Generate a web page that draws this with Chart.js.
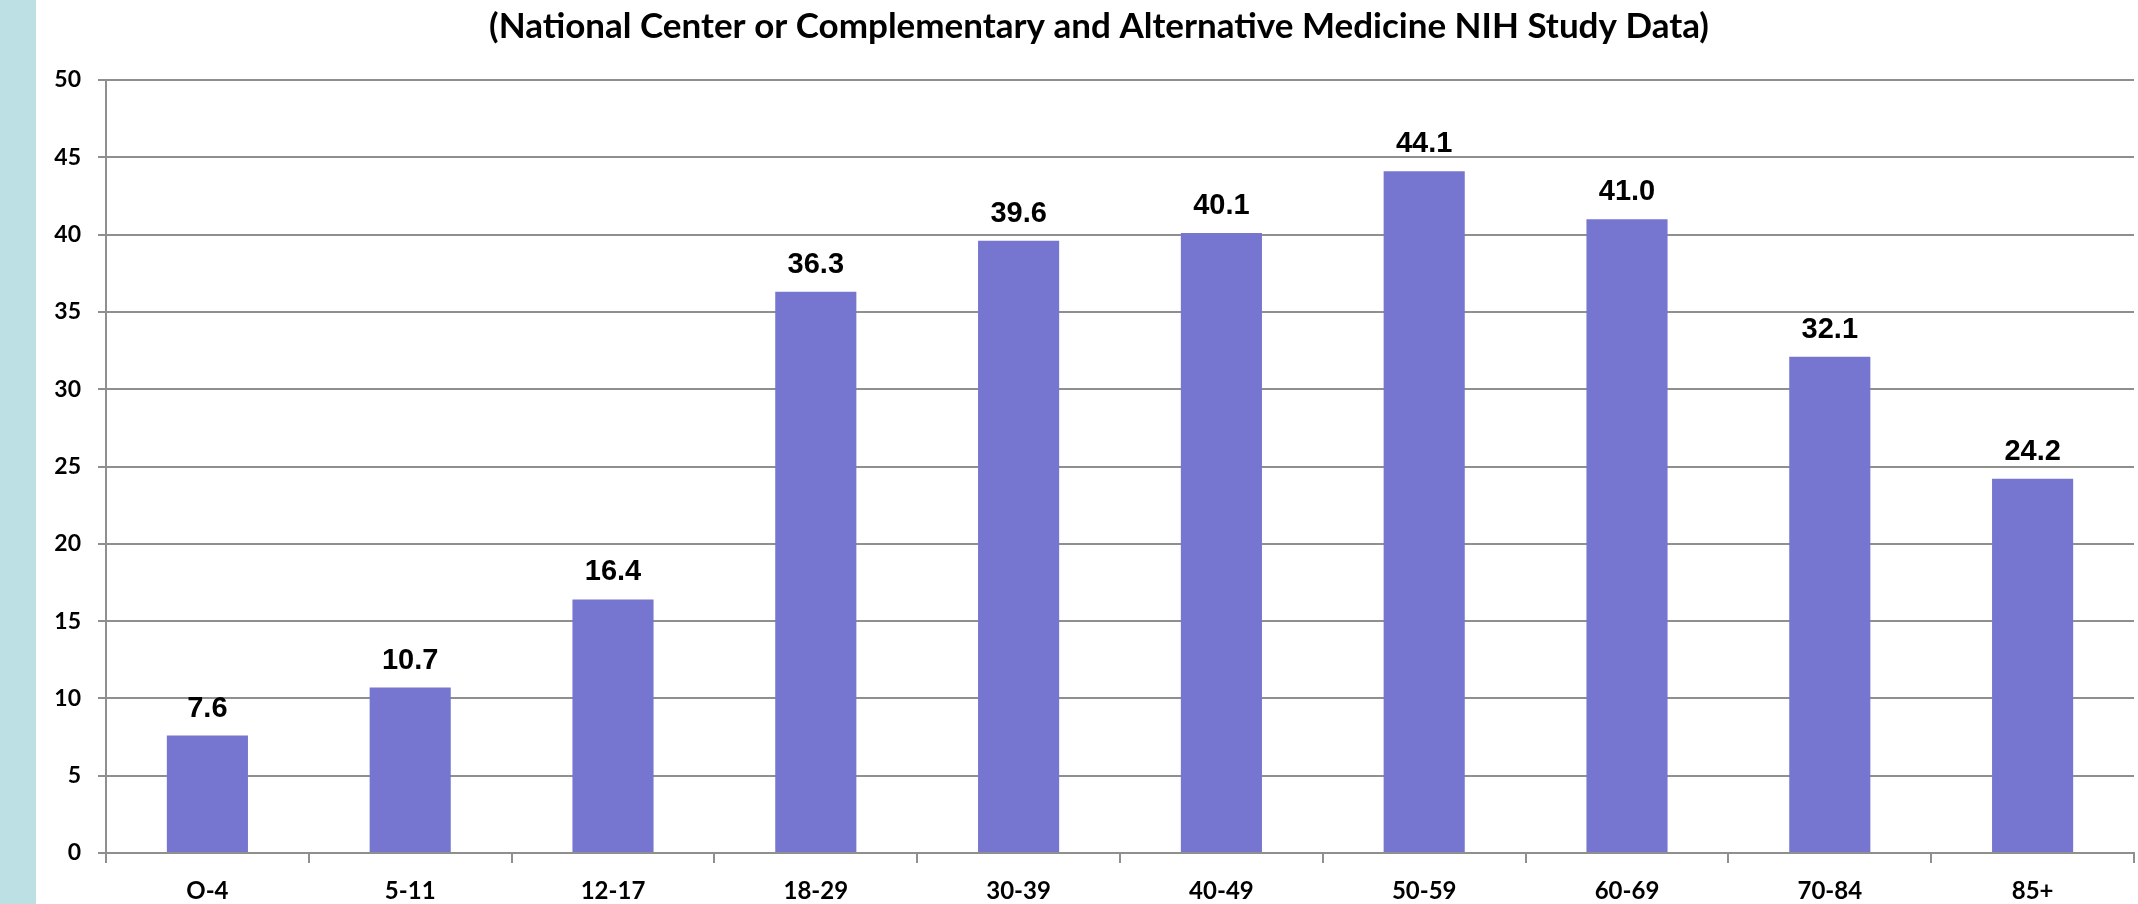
<!DOCTYPE html>
<html>
<head>
<meta charset="utf-8">
<script src="https://cdn.jsdelivr.net/npm/chart.js@4/dist/chart.umd.min.js"></script>
<style>
  html, body { margin: 0; padding: 0; background: #ffffff; }
  #wrap { position: relative; width: 2138px; height: 904px; }
</style>
</head>
<body>
<div id="wrap"><canvas id="c" width="2138" height="904"></canvas></div>
<script>
const titleText = "(National Center or Complementary and Alternative Medicine NIH Study Data)";
const categories = ["O-4", "5-11", "12-17", "18-29", "30-39", "40-49", "50-59", "60-69", "70-84", "85+"];
const values = [7.6, 10.7, 16.4, 36.3, 39.6, 40.1, 44.1, 41.0, 32.1, 24.2];
const yMin = 0, yMax = 50, yStep = 5;

const stripPlugin = {
  id: 'strip',
  beforeDraw(chart) {
    const ctx = chart.ctx;
    ctx.save();
    ctx.fillStyle = '#ffffff';
    ctx.fillRect(0, 0, chart.width, chart.height);
    ctx.fillStyle = '#bce0e3';
    ctx.fillRect(0, 0, 36, chart.height);
    ctx.restore();
  }
};

// shift the title block so it is centred over the region right of the strip
const titleShift = {
  id: 'titleShift',
  afterLayout(chart) {
    if (chart.titleBlock) chart.titleBlock.left = 64;
  }
};

const valueLabels = {
  id: 'valueLabels',
  afterDatasetsDraw(chart) {
    const ctx = chart.ctx;
    const meta = chart.getDatasetMeta(0);
    ctx.save();
    ctx.font = 'bold 29px "Liberation Sans", Arial, sans-serif';
    ctx.fillStyle = '#000000';
    ctx.textAlign = 'center';
    ctx.textBaseline = 'alphabetic';
    meta.data.forEach((bar, i) => {
      ctx.fillText(values[i].toFixed(1), bar.x, bar.y - 19);
    });
    ctx.restore();
  }
};

new Chart(document.getElementById('c'), {
  type: 'bar',
  data: {
    labels: categories,
    datasets: [{
      data: values,
      backgroundColor: '#7676d0',
      borderWidth: 0,
      barPercentage: 0.4,
      categoryPercentage: 1.0
    }]
  },
  options: {
    responsive: false,
    animation: false,
    devicePixelRatio: 1,
    layout: { padding: { left: 0, right: 4, top: 0, bottom: 0 } },
    plugins: {
      legend: { display: false },
      tooltip: { enabled: false },
      title: {
        display: true,
        text: titleText,
        color: '#000000',
        font: { family: 'Lato', weight: 'bold', size: 35, lineHeight: 1.2 },
        padding: { top: 6, bottom: 32 }
      }
    },
    scales: {
      x: {
        grid: { display: true, drawOnChartArea: false, drawTicks: true, tickLength: 10, color: '#8f8f8f', lineWidth: 2, offset: true },
        border: { display: true, color: '#8f8f8f', width: 2 },
        ticks: { color: '#000000', font: { family: 'Lato', weight: 'bold', size: 24 }, padding: 14, maxRotation: 0, autoSkip: false },
        afterFit(scale) { scale.height = 51; }
      },
      y: {
        min: yMin, max: yMax,
        grid: { color: '#8f8f8f', lineWidth: 2, tickLength: 8, drawTicks: true },
        border: { display: true, color: '#8f8f8f', width: 2 },
        ticks: { stepSize: yStep, color: '#000000', font: { family: 'Lato', weight: 'bold', size: 23 }, padding: 17 },
        afterFit(scale) { scale.width = 106; }
      }
    }
  },
  plugins: [stripPlugin, titleShift, valueLabels]
});
</script>
</body>
</html>
